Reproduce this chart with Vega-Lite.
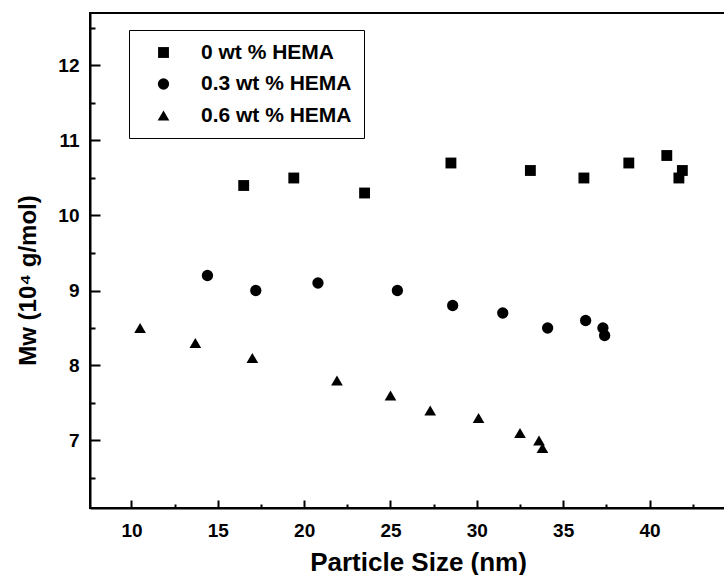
{
  "$schema": "https://vega.github.io/schema/vega-lite/v6.json",
  "width": 635,
  "height": 495,
  "autosize": "none",
  "padding": {"left": 90, "top": 13, "right": 0, "bottom": 67},
  "background": "white",
  "config": {
    "view": {"stroke": "black", "strokeWidth": 2},
    "font": "Liberation Sans",
    "axis": {"grid": false, "domainColor": "black", "domainWidth": 2, "tickColor": "black", "tickWidth": 2, "labelColor": "black", "titleColor": "black", "labelFont": "Liberation Sans", "titleFont": "Liberation Sans", "labelFontWeight": "bold", "titleFontWeight": "bold", "labelFontSize": 19, "titleFontSize": 24}
  },
  "data": {
    "values": [
      {"series": "0 wt % HEMA", "size": 16.5, "mw": 10.4},
      {"series": "0 wt % HEMA", "size": 19.4, "mw": 10.5},
      {"series": "0 wt % HEMA", "size": 23.5, "mw": 10.3},
      {"series": "0 wt % HEMA", "size": 28.5, "mw": 10.7},
      {"series": "0 wt % HEMA", "size": 33.1, "mw": 10.6},
      {"series": "0 wt % HEMA", "size": 36.2, "mw": 10.5},
      {"series": "0 wt % HEMA", "size": 38.8, "mw": 10.7},
      {"series": "0 wt % HEMA", "size": 41.0, "mw": 10.8},
      {"series": "0 wt % HEMA", "size": 41.9, "mw": 10.6},
      {"series": "0 wt % HEMA", "size": 41.7, "mw": 10.5},
      {"series": "0.3 wt % HEMA", "size": 14.4, "mw": 9.2},
      {"series": "0.3 wt % HEMA", "size": 17.2, "mw": 9.0},
      {"series": "0.3 wt % HEMA", "size": 20.8, "mw": 9.1},
      {"series": "0.3 wt % HEMA", "size": 25.4, "mw": 9.0},
      {"series": "0.3 wt % HEMA", "size": 28.6, "mw": 8.8},
      {"series": "0.3 wt % HEMA", "size": 31.5, "mw": 8.7},
      {"series": "0.3 wt % HEMA", "size": 34.1, "mw": 8.5},
      {"series": "0.3 wt % HEMA", "size": 36.3, "mw": 8.6},
      {"series": "0.3 wt % HEMA", "size": 37.3, "mw": 8.5},
      {"series": "0.3 wt % HEMA", "size": 37.4, "mw": 8.4},
      {"series": "0.6 wt % HEMA", "size": 10.5, "mw": 8.5},
      {"series": "0.6 wt % HEMA", "size": 13.7, "mw": 8.3},
      {"series": "0.6 wt % HEMA", "size": 17.0, "mw": 8.1},
      {"series": "0.6 wt % HEMA", "size": 21.9, "mw": 7.8},
      {"series": "0.6 wt % HEMA", "size": 25.0, "mw": 7.6},
      {"series": "0.6 wt % HEMA", "size": 27.3, "mw": 7.4},
      {"series": "0.6 wt % HEMA", "size": 30.1, "mw": 7.3},
      {"series": "0.6 wt % HEMA", "size": 32.5, "mw": 7.1},
      {"series": "0.6 wt % HEMA", "size": 33.6, "mw": 7.0},
      {"series": "0.6 wt % HEMA", "size": 33.8, "mw": 6.9}
    ]
  },
  "resolve": {"axis": {"x": "independent", "y": "independent"}},
  "layer": [
    {
      "mark": {"type": "point", "filled": true, "opacity": 0},
      "encoding": {
        "x": {
          "field": "size", "type": "quantitative",
          "scale": {"domain": [7.6, 44.37], "nice": false, "zero": false},
          "axis": {"orient": "bottom", "title": null, "labels": false, "domain": false, "values": [12.5, 17.5, 22.5, 27.5, 32.5, 37.5, 42.5], "tickSize": -4}
        },
        "y": {
          "field": "mw", "type": "quantitative",
          "scale": {"domain": [6.1, 12.7], "nice": false, "zero": false},
          "axis": {"orient": "left", "title": null, "labels": false, "domain": false, "values": [6.5, 7.5, 8.5, 9.5, 10.5, 11.5, 12.5], "tickSize": -5}
        }
      }
    },
    {
      "mark": {"type": "point", "filled": true, "opacity": 1, "color": "black", "strokeWidth": 0},
      "encoding": {
        "x": {
          "field": "size", "type": "quantitative",
          "scale": {"domain": [7.6, 44.37], "nice": false, "zero": false},
          "axis": {
            "orient": "bottom",
            "title": "Particle Size (nm)",
            "titleFontSize": 26,
            "values": [10, 15, 20, 25, 30, 35, 40],
            "format": "d",
            "tickSize": -8,
            "labelPadding": 21,
            "labelFlush": false,
            "labelOverlap": false,
            "titleX": 328, "titleY": 54, "titleBaseline": "middle", "titleAlign": "center"
          }
        },
        "y": {
          "field": "mw", "type": "quantitative",
          "scale": {"domain": [6.1, 12.7], "nice": false, "zero": false},
          "axis": {
            "orient": "left",
            "title": "Mw (10⁴ g/mol)",
            "values": [7, 8, 9, 10, 11, 12],
            "format": "d",
            "tickSize": -10,
            "labelPadding": 21,
            "labelFlush": false,
            "labelOverlap": false,
            "titleX": -62, "titleY": 267, "titleBaseline": "middle", "titleAlign": "center", "titleAngle": 270
          }
        },
        "shape": {
          "field": "series", "type": "nominal",
          "scale": {"domain": ["0 wt % HEMA", "0.3 wt % HEMA", "0.6 wt % HEMA"], "range": ["square", "circle", "triangle-up"]},
          "legend": {
            "title": null, "orient": "none", "legendX": 39, "legendY": 17,
            "strokeColor": "black", "fillColor": "white",
            "padding": 12, "symbolOffset": 12,
            "symbolFillColor": "black", "symbolStrokeColor": "black", "symbolStrokeWidth": 0, "symbolOpacity": 1,
            "labelFont": "Liberation Sans", "labelFontWeight": "bold", "labelFontSize": 21, "labelColor": "black",
            "labelOffset": 27, "rowPadding": 9.5
          }
        },
        "size": {
          "field": "series", "type": "nominal",
          "scale": {"domain": ["0 wt % HEMA", "0.3 wt % HEMA", "0.6 wt % HEMA"], "range": [118, 137, 165]},
          "legend": {
            "title": null, "orient": "none", "legendX": 39, "legendY": 17,
            "strokeColor": "black", "fillColor": "white",
            "padding": 12, "symbolOffset": 12,
            "symbolFillColor": "black", "symbolStrokeColor": "black", "symbolStrokeWidth": 0, "symbolOpacity": 1,
            "labelFont": "Liberation Sans", "labelFontWeight": "bold", "labelFontSize": 21, "labelColor": "black",
            "labelOffset": 27, "rowPadding": 9.5
          }
        }
      }
    }
  ]
}
